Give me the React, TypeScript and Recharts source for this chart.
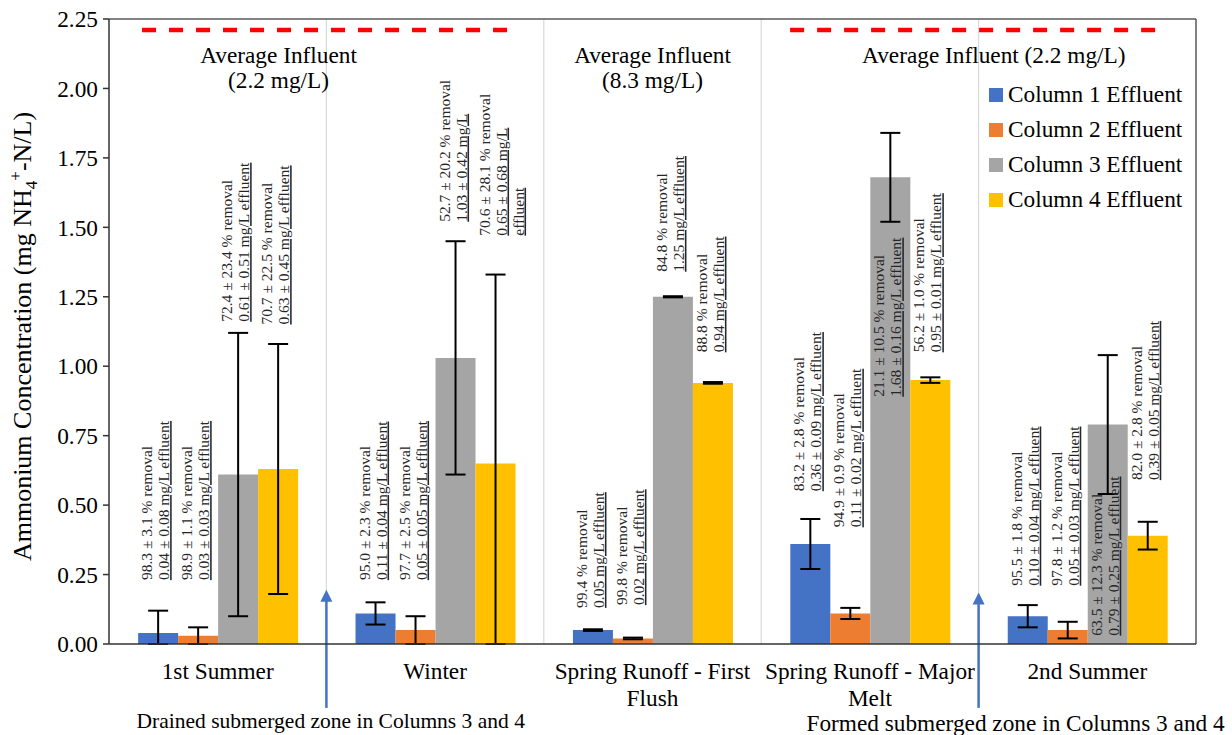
import React from 'react';
import {
  BarChart,
  Bar,
  XAxis,
  YAxis,
  ErrorBar,
  LabelList,
  ReferenceLine,
  ReferenceDot,
  Legend,
} from 'recharts';

const FONT = '"Liberation Serif", "Times New Roman", serif';

// ---------- data ----------
const categories = [
  '1st Summer',
  'Winter',
  'Spring Runoff - First Flush',
  'Spring Runoff - Major Melt',
  '2nd Summer',
];
const categoryLines = [
  ['1st Summer'],
  ['Winter'],
  ['Spring Runoff - First', 'Flush'],
  ['Spring Runoff - Major', 'Melt'],
  ['2nd Summer'],
];

const seriesNames = ['Column 1 Effluent', 'Column 2 Effluent', 'Column 3 Effluent', 'Column 4 Effluent'];
const seriesColors = ['#4472C4', '#ED7D31', '#A5A5A5', '#FFC000'];

const col1 = [0.04, 0.11, 0.05, 0.36, 0.1];
const col2 = [0.03, 0.05, 0.02, 0.11, 0.05];
const col3 = [0.61, 1.03, 1.25, 1.68, 0.79];
const col4 = [0.63, 0.65, 0.94, 0.95, 0.39];

const col1Err = [0.08, 0.04, 0.003, 0.09, 0.04];
const col2Err = [0.03, 0.05, 0.003, 0.02, 0.03];
const col3Err = [0.51, 0.42, 0.002, 0.16, 0.25];
const col4Err = [0.45, 0.68, 0.003, 0.01, 0.05];

const col1Labels = [
  ['98.3 ± 3.1 % removal', '0.04 ± 0.08 mg/L effluent'],
  ['95.0 ± 2.3 % removal', '0.11 ± 0.04 mg/L effluent'],
  ['99.4 % removal', '0.05 mg/L effluent'],
  ['83.2 ± 2.8 % removal', '0.36 ± 0.09 mg/L effluent'],
  ['95.5 ± 1.8 % removal', '0.10 ± 0.04 mg/L effluent'],
];
const col2Labels = [
  ['98.9 ± 1.1 % removal', '0.03 ± 0.03 mg/L effluent'],
  ['97.7 ± 2.5 % removal', '0.05 ± 0.05 mg/L effluent'],
  ['99.8 % removal', '0.02 mg/L effluent'],
  ['94.9 ± 0.9 % removal', '0.11 ± 0.02 mg/L effluent'],
  ['97.8 ± 1.2 % removal', '0.05 ± 0.03 mg/L effluent'],
];
const col3Labels = [
  ['72.4 ± 23.4 % removal', '0.61 ± 0.51 mg/L effluent'],
  ['52.7 ± 20.2 % removal', '1.03 ± 0.42 mg/L'],
  ['84.8 % removal', '1.25 mg/L effluent'],
  ['21.1 ± 10.5 % removal', '1.68 ± 0.16 mg/L effluent'],
  ['63.5 ± 12.3 % removal', '0.79 ± 0.25 mg/L effluent'],
];
const col4Labels = [
  ['70.7 ± 22.5 % removal', '0.63 ± 0.45 mg/L effluent'],
  ['70.6 ± 28.1 % removal', '0.65 ± 0.68 mg/L', 'effluent'],
  ['88.8 % removal', '0.94 mg/L effluent'],
  ['56.2 ± 1.0 % removal', '0.95 ± 0.01 mg/L effluent'],
  ['82.0 ± 2.8 % removal', '0.39 ± 0.05 mg/L effluent'],
];

// where (in mg/L) each rotated label starts
const col1LabelAt = [0.23, 0.23, 0.13, 0.55, 0.21];
const col2LabelAt = [0.23, 0.23, 0.14, 0.42, 0.21];
const col3LabelAt = [1.16, 1.52, 1.34, 0.89, 0.03];
const col4LabelAt = [1.15, 1.47, 1.05, 1.05, 0.59];

const yTicks = [0, 0.25, 0.5, 0.75, 1.0, 1.25, 1.5, 1.75, 2.0, 2.25];

const influentLevel = 2.21;
const influentSegments = [
  [0.152, 1.854],
  [3.133, 4.848],
];
const influentNotes = [
  { x: 0.78, y: 2.09, lines: ['Average Influent', '(2.2 mg/L)'] },
  { x: 2.5, y: 2.09, lines: ['Average Influent', '(8.3 mg/L)'] },
  { x: 4.07, y: 2.09, lines: ['Average Influent (2.2 mg/L)'] },
];
const arrows = [
  { x: 1.0, from: -0.23, to: 0.195, tx: 1.02, ty: -0.303, size: 21.5, text: 'Drained submerged zone in Columns 3 and 4' },
  { x: 4.0, from: -0.23, to: 0.185, tx: 4.17, ty: -0.314, size: 23.3, text: 'Formed submerged zone in Columns 3 and 4' },
];
const boundaries = [1, 2, 3, 4];

const data = categories.map((cat, i) => ({
  cat,
  slot: i + 0.5,
  c1: col1[i],
  c2: col2[i],
  c3: col3[i],
  c4: col4[i],
  // lower whisker stops at the axis (the reference clips it there)
  e1: [Math.min(col1Err[i], col1[i]), col1Err[i]],
  e2: [Math.min(col2Err[i], col2[i]), col2Err[i]],
  e3: [Math.min(col3Err[i], col3[i]), col3Err[i]],
  e4: [Math.min(col4Err[i], col4[i]), col4Err[i]],
}));

// ---------- renderers ----------
const makeBarLabel = (labels: string[][], anchors: number[]) => (props: any) => {
  const vb = props.viewBox && props.viewBox.width !== undefined ? props.viewBox : props;
  const { x, y, width, height } = vb;
  const value = Number(props.value);
  const index = props.index;
  if (index === undefined || !labels[index] || !value) return null;
  const base = y + height;
  const ppu = height / value;
  const ty = base - anchors[index] * ppu;
  const cx = x + width / 2;
  return (
    <g>
      {labels[index].map((ln, k) => {
        const bx = cx - 6 + 17 * k;
        return (
          <text
            key={k}
            x={bx}
            y={ty}
            transform={`rotate(-90 ${bx} ${ty})`}
            fontSize={15.5}
            fontFamily={FONT}
            fill="#262626"
            textDecoration={k > 0 ? 'underline' : undefined}
          >
            {ln}
          </text>
        );
      })}
    </g>
  );
};

const XTick = (props: any) => {
  const { x, y, payload } = props;
  const idx = payload.index !== undefined ? payload.index : categories.indexOf(payload.value);
  const lines = categoryLines[idx] || [String(payload.value)];
  return (
    <text x={x} y={y + 29} textAnchor="middle" fontSize={23.3} fontFamily={FONT} fill="#000">
      {lines.map((l, i) => (
        <tspan key={i} x={x} dy={i === 0 ? 0 : 27}>
          {l}
        </tspan>
      ))}
    </text>
  );
};

const YTitle = (props: any) => {
  const vb = props.viewBox || { x: 0, y: 19, width: 109, height: 625 };
  const cx = vb.x + 31;
  const cy = vb.y + vb.height / 2 + 5;
  return (
    <text
      x={cx}
      y={cy}
      transform={`rotate(-90 ${cx} ${cy})`}
      textAnchor="middle"
      fontSize={26}
      fontFamily={FONT}
      fill="#000"
    >
      Ammonium Concentration (mg NH
      <tspan fontSize={17} dy={6}>4</tspan>
      <tspan fontSize={17} dy={-16}>+</tspan>
      <tspan dy={10}>-N/L)</tspan>
    </text>
  );
};

const makeNote = (lines: string[], size: number) => (props: any) => {
  const vb = props.viewBox;
  const cx = vb.x + (vb.width || 0) / 2;
  const cy = vb.y + (vb.height || 0) / 2;
  return (
    <text x={cx} y={cy} textAnchor="middle" fontSize={size} fontFamily={FONT} fill="#000">
      {lines.map((l, i) => (
        <tspan key={i} x={cx} dy={i === 0 ? 0 : 25}>
          {l}
        </tspan>
      ))}
    </text>
  );
};

const ArrowShape = (props: any) => {
  const { x1, y1, y2 } = props;
  const x = x1;
  const tip = Math.min(y1, y2);
  const bottom = Math.max(y1, y2);
  return (
    <g>
      <line x1={x} y1={bottom} x2={x} y2={tip + 10} stroke="#4472C4" strokeWidth={2.5} />
      <polygon points={`${x},${tip} ${x - 6},${tip + 12} ${x + 6},${tip + 12}`} fill="#4472C4" />
    </g>
  );
};

const LegendContent = () => (
  <div style={{ fontFamily: FONT, fontSize: 23.3, color: '#000' }}>
    {seriesNames.map((n, i) => (
      <div key={n} style={{ display: 'flex', alignItems: 'center', height: 35, whiteSpace: 'nowrap' }}>
        <span style={{ display: 'inline-block', width: 14, height: 14, background: seriesColors[i], marginRight: 5 }} />
        {n}
      </div>
    ))}
  </div>
);

export default function App() {
  const barKeys = ['c1', 'c2', 'c3', 'c4'];
  const errKeys = ['e1', 'e2', 'e3', 'e4'];
  const labels = [col1Labels, col2Labels, col3Labels, col4Labels];
  const anchors = [col1LabelAt, col2LabelAt, col3LabelAt, col4LabelAt];

  return (
    <div style={{ position: 'absolute', left: 0, top: 0, width: 1232, height: 735, background: '#fff' }}>
      <BarChart
        width={1232}
        height={735}
        data={data}
        margin={{ top: 19, right: 36, left: 0, bottom: 31 }}
        barCategoryGap="13.4%"
        barGap={0}
      >
        <XAxis
          dataKey="cat"
          interval={0}
          height={60}
          tickLine={false}
          tickSize={6}
          tickMargin={0}
          axisLine={{ stroke: '#333', strokeWidth: 1.5 }}
          tick={<XTick />}
        />
        <XAxis xAxisId="num" dataKey="slot" type="number" domain={[0, 5]} allowDataOverflow hide />
        <YAxis
          width={109}
          domain={[0, 2.25]}
          ticks={yTicks}
          interval={0}
          allowDataOverflow
          tickFormatter={(v: number) => v.toFixed(2)}
          tick={{ fontSize: 23.3, fontFamily: FONT, fill: '#000' }}
          tickSize={6}
          tickMargin={5}
          tickLine={{ stroke: '#333', strokeWidth: 1.5 }}
          axisLine={{ stroke: '#333', strokeWidth: 1.5 }}
          label={{ content: <YTitle /> }}
        />

        {boundaries.map((b) => (
          <ReferenceLine key={'g' + b} xAxisId="num" x={b} stroke="#d9d9d9" strokeWidth={1.2} ifOverflow="visible" />
        ))}
        <ReferenceLine y={2.25} stroke="#595959" strokeWidth={1.5} ifOverflow="visible" />
        <ReferenceLine xAxisId="num" x={5} stroke="#595959" strokeWidth={1.5} ifOverflow="visible" />

        {influentSegments.map((s, i) => (
          <ReferenceLine
            key={'inf' + i}
            xAxisId="num"
            segment={[
              { x: s[0], y: influentLevel },
              { x: s[1], y: influentLevel },
            ]}
            stroke="#FF0000"
            strokeWidth={4.5}
            strokeDasharray="14 13"
            ifOverflow="visible"
          />
        ))}

        {influentNotes.map((n, i) => (
          <ReferenceDot
            key={'note' + i}
            xAxisId="num"
            x={n.x}
            y={n.y}
            r={1}
            fill="none"
            stroke="none"
            ifOverflow="visible"
            label={{ content: makeNote(n.lines, 23.3) }}
          />
        ))}

        {barKeys.map((k, i) => (
          <Bar key={k} dataKey={k} name={seriesNames[i]} fill={seriesColors[i]} isAnimationActive={false}>
            <ErrorBar dataKey={errKeys[i]} direction="y" width={10} stroke="#000" strokeWidth={2} />
            <LabelList dataKey={k} content={makeBarLabel(labels[i], anchors[i])} />
          </Bar>
        ))}

        {arrows.map((a, i) => (
          <ReferenceLine
            key={'arr' + i}
            xAxisId="num"
            segment={[
              { x: a.x, y: a.from },
              { x: a.x, y: a.to },
            ]}
            stroke="#4472C4"
            ifOverflow="visible"
            shape={ArrowShape}
          />
        ))}
        {arrows.map((a, i) => (
          <ReferenceDot
            key={'arrt' + i}
            xAxisId="num"
            x={a.tx}
            y={a.ty}
            r={1}
            fill="none"
            stroke="none"
            ifOverflow="visible"
            label={{ content: makeNote([a.text], a.size) }}
          />
        ))}

        <Legend
          content={<LegendContent />}
          layout="vertical"
          align="center"
          verticalAlign="middle"
          wrapperStyle={{ left: 989, top: 77, width: 205 }}
        />
      </BarChart>
    </div>
  );
}
